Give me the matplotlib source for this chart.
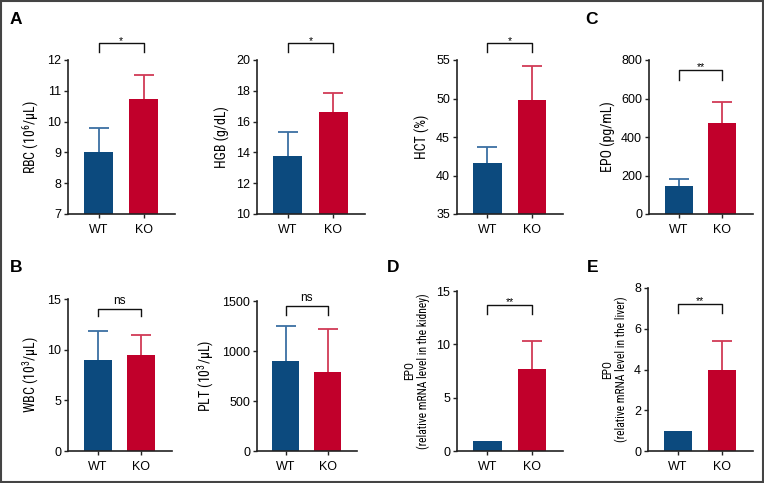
import matplotlib
matplotlib.use("Agg")
import matplotlib.pyplot as plt
from matplotlib import font_manager
from matplotlib.font_manager import FontProperties
import matplotlib.transforms as mtransforms
from matplotlib.patches import Rectangle

# look for a condensed sans font for axis titles
cond_path = None
cond_name = None
prefs = ["Liberation Sans Narrow", "Roboto Condensed", "Open Sans Condensed",
         "DejaVu Sans Condensed", "Noto Sans Condensed"]
entries = font_manager.fontManager.ttflist
for p in prefs:
    for f in entries:
        if (f.name == p or p.lower().replace(" ", "") in f.fname.lower().replace("-", "").replace("_", "")) \
                and f.weight in (400, 'normal', 'regular') and f.style == 'normal':
            cond_path, cond_name = f.fname, f.name
            break
    if cond_path:
        break
if cond_path is None:
    for f in entries:
        if (str(f.stretch) in ('condensed', 'semi-condensed') or 'Condensed' in f.fname or 'Narrow' in f.fname) \
                and f.style == 'normal' and f.weight in (400, 'normal', 'regular') \
                and 'Mono' not in f.fname and 'Serif' not in f.fname:
            cond_path, cond_name = f.fname, f.name
            break

plt.rcParams['font.family'] = ['Liberation Sans', 'DejaVu Sans']

def ylab_fp(size):
    if cond_path:
        return FontProperties(fname=cond_path, size=size)
    return FontProperties(family=['Liberation Sans', 'DejaVu Sans'], size=size - 1)

plt.rcParams['mathtext.fontset'] = 'custom'
plt.rcParams['mathtext.rm'] = cond_name if cond_name else 'Liberation Sans'
plt.rcParams['mathtext.it'] = cond_name if cond_name else 'Liberation Sans'

groups = ["WT", "KO"]

rbc_mean = [9.0, 10.75]
rbc_err = [0.8, 0.77]
hgb_mean = [13.75, 16.6]
hgb_err = [1.55, 1.25]
hct_mean = [41.6, 49.8]
hct_err = [2.1, 4.4]
epo_mean = [148, 473]
epo_err = [35, 110]
wbc_mean = [9.0, 9.45]
wbc_err = [2.8, 1.95]
plt_mean = [905, 790]
plt_err = [350, 430]
kid_mean = [0.95, 7.7]
kid_err = [0.0, 2.6]
liv_mean = [1.0, 4.0]
liv_err = [0.0, 1.4]

W, H = 764, 483
fig = plt.figure(figsize=(W / 100, H / 100), dpi=100)

BAR_COLORS = ["#0c4a7e", "#c1002b"]
ERR_COLORS = ["#3b70a3", "#d13a56"]

def make_ax(l, r, t, b):
    return fig.add_axes([l / W, (H - b) / H, (r - l) / W, (b - t) / H])

panels = [
    ((68, 175, 60, 214), rbc_mean, rbc_err, (7, 12), [7, 8, 9, 10, 11, 12],
     "RBC (10$^6$/μL)", 10, "*", (1.11, 1.052, 1.125)),
    ((257, 365, 60, 214), hgb_mean, hgb_err, (10, 20), [10, 12, 14, 16, 18, 20],
     "HGB (g/dL)", 10, "*", (1.11, 1.052, 1.125)),
    ((457, 563, 60, 214), hct_mean, hct_err, (35, 55), [35, 40, 45, 50, 55],
     "HCT (%)", 10, "*", (1.11, 1.052, 1.125)),
    ((649, 753, 60, 214), epo_mean, epo_err, (0, 800), [0, 200, 400, 600, 800],
     "EPO (pg/mL)", 10, "**", (0.935, 0.87, 0.955)),
    ((68, 172, 299, 451), wbc_mean, wbc_err, (0, 15), [0, 5, 10, 15],
     "WBC (10$^3$/μL)", 10, "ns", (0.934, 0.888, 0.945)),
    ((257, 357, 301, 451), plt_mean, plt_err, (0, 1500), [0, 500, 1000, 1500],
     "PLT (10$^3$/μL)", 10, "ns", (0.967, 0.907, 0.978)),
    ((457, 563, 291, 451), kid_mean, kid_err, (0, 15), [0, 5, 10, 15],
     "EPO\n(relative mRNA level in the kidney)", 8.3, "**", (0.9125, 0.856, 0.93)),
    ((648, 753, 288, 451), liv_mean, liv_err, (0, 8), [0, 2, 4, 6, 8],
     "EPO\n(relative mRNA level in the liver)", 8.3, "**", (0.902, 0.847, 0.92)),
]

x = [0, 1]
for box, means, errs, ylim, yticks, ylabel, ylsize, sig, br in panels:
    ax = make_ax(*box)
    ax.bar(x, means, width=0.64, color=BAR_COLORS, linewidth=0, zorder=2)
    for i in range(2):
        if errs[i] > 0:
            _, caps, _ = ax.errorbar(x[i], means[i], yerr=[[0], [errs[i]]], fmt='none',
                                     ecolor=ERR_COLORS[i], elinewidth=1.3, capsize=7,
                                     capthick=1.3, zorder=1)
            for c in caps:
                if abs(c.get_ydata()[0] - means[i]) < 1e-9:
                    c.set_visible(False)
    ax.set_xlim(-0.68, 1.7)
    ax.set_ylim(*ylim)
    ax.set_yticks(yticks)
    ax.set_xticks(x)
    ax.set_xticklabels(groups, fontsize=9)
    ax.tick_params(axis='y', labelsize=9, length=3, width=1, color="#222222", pad=2)
    ax.tick_params(axis='x', length=3, width=1, color="#222222", pad=4)
    for s in ['top', 'right']:
        ax.spines[s].set_visible(False)
    for s in ['left', 'bottom']:
        ax.spines[s].set_linewidth(1.2)
        ax.spines[s].set_color("#222222")
    ax.set_ylabel(ylabel, fontproperties=ylab_fp(ylsize), labelpad=4, linespacing=1.1)
    trans = mtransforms.blended_transform_factory(ax.transData, ax.transAxes)
    yb, yd, yt = br
    ax.plot([0, 0, 1, 1], [yd, yb, yb, yd], color="#111111", lw=1.0,
            transform=trans, clip_on=False)
    ax.text(0.5, yt, sig, transform=trans, ha='center',
            va='bottom' if sig == 'ns' else 'center',
            fontsize=8.5 if sig == 'ns' else 7.5)

for lab, px, py in [("A", 10, 19), ("C", 585, 19), ("B", 10, 268), ("D", 387, 268), ("E", 587, 268)]:
    fig.text(px / W, 1 - py / H, lab, fontsize=12.5, fontweight='bold', va='center', ha='left')

fig.patches.append(Rectangle((0.001, 0.002), 0.998, 0.996, transform=fig.transFigure,
                             fill=False, edgecolor="#444444", linewidth=1.5))

fig.savefig("out.png", dpi=100)
